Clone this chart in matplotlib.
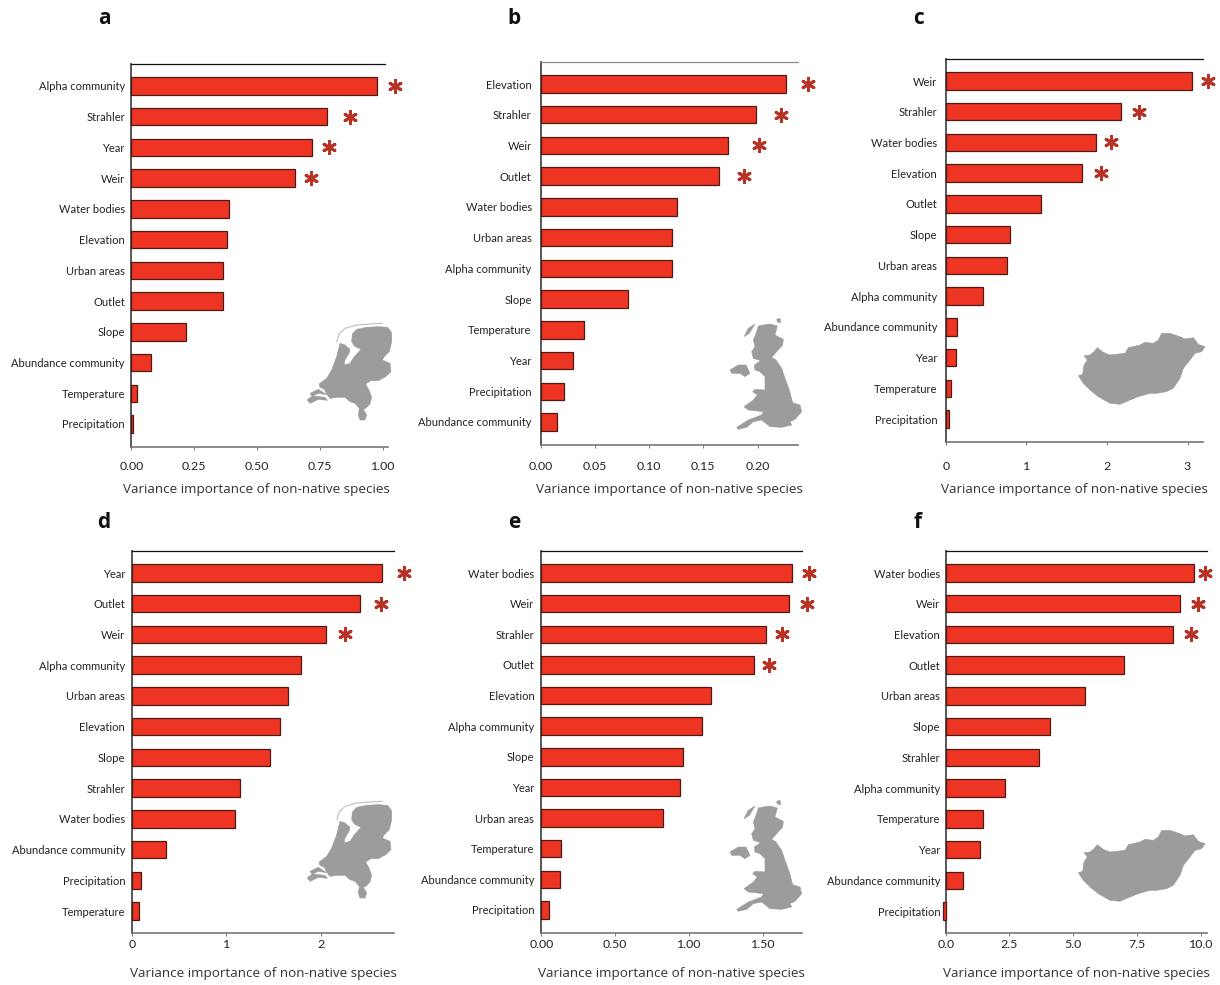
import matplotlib
matplotlib.use("Agg")
import matplotlib.pyplot as plt
from matplotlib.patches import Polygon
from matplotlib.lines import Line2D
from matplotlib.transforms import Affine2D

# ---------- data ----------
labels_a = ["Alpha community", "Strahler", "Year", "Weir", "Water bodies", "Elevation", "Urban areas", "Outlet", "Slope", "Abundance community", "Temperature", "Precipitation"]
values_a = [0.977, 0.779, 0.719, 0.652, 0.389, 0.381, 0.365, 0.365, 0.218, 0.079, 0.024, 0.008]
stars_a = [1.048, 0.869, 0.785, 0.714]
ticks_a = [0, 0.25, 0.5, 0.75, 1.0]
ticklabels_a = ["0.00", "0.25", "0.50", "0.75", "1.00"]

labels_b = ["Elevation", "Strahler", "Weir", "Outlet", "Water bodies", "Urban areas", "Alpha community", "Slope", "Temperature", "Year", "Precipitation", "Abundance community"]
values_b = [0.2265, 0.199, 0.173, 0.164, 0.126, 0.121, 0.121, 0.0805, 0.040, 0.030, 0.0215, 0.015]
stars_b = [0.2468, 0.2218, 0.2015, 0.1877]
ticks_b = [0, 0.05, 0.10, 0.15, 0.20]
ticklabels_b = ["0.00", "0.05", "0.10", "0.15", "0.20"]

labels_c = ["Weir", "Strahler", "Water bodies", "Elevation", "Outlet", "Slope", "Urban areas", "Alpha community", "Abundance community", "Year", "Temperature", "Precipitation"]
values_c = [3.055, 2.175, 1.865, 1.69, 1.18, 0.80, 0.76, 0.463, 0.14, 0.128, 0.066, 0.04]
stars_c = [3.254, 2.40, 2.05, 1.927]
ticks_c = [0, 1, 2, 3]
ticklabels_c = ["0", "1", "2", "3"]

labels_d = ["Year", "Outlet", "Weir", "Alpha community", "Urban areas", "Elevation", "Slope", "Strahler", "Water bodies", "Abundance community", "Precipitation", "Temperature"]
values_d = [2.645, 2.41, 2.05, 1.79, 1.65, 1.565, 1.46, 1.145, 1.09, 0.365, 0.10, 0.08]
stars_d = [2.875, 2.633, 2.252]
ticks_d = [0, 1, 2]
ticklabels_d = ["0", "1", "2"]

labels_e = ["Water bodies", "Weir", "Strahler", "Outlet", "Elevation", "Alpha community", "Slope", "Year", "Urban areas", "Temperature", "Abundance community", "Precipitation"]
values_e = [1.695, 1.675, 1.52, 1.44, 1.145, 1.085, 0.96, 0.935, 0.82, 0.13, 0.125, 0.05]
stars_e = [1.809, 1.795, 1.626, 1.539]
ticks_e = [0, 0.5, 1.0, 1.5]
ticklabels_e = ["0.00", "0.50", "1.00", "1.50"]

labels_f = ["Water bodies", "Weir", "Elevation", "Outlet", "Urban areas", "Slope", "Strahler", "Alpha community", "Temperature", "Year", "Abundance community", "Precipitation"]
values_f = [9.75, 9.2, 8.9, 7.0, 5.46, 4.09, 3.66, 2.33, 1.46, 1.35, 0.68, -0.1]
stars_f = [10.17, 9.89, 9.62]
ticks_f = [0, 2.5, 5.0, 7.5, 10.0]
ticklabels_f = ["0.0", "2.5", "5.0", "7.5", "10.0"]

xlabel_text = "Variance importance of non-native species"

# ---------- map outlines (drawn decorations, in zoomed-crop pixels) ----------
nl_main = [(172,72),(185,58),(215,52),(250,50),(278,52),(290,68),(290,95),(283,125),(268,140),(262,150),(285,160),(288,185),(272,200),(250,212),(228,212),(212,222),(222,240),(230,262),(225,282),(212,295),(205,298),(215,315),(210,330),(195,330),(190,315),(193,295),(180,280),(165,275),(150,262),(130,262),(105,265),(95,252),(88,238),(75,232),(72,222),(95,205),(110,180),(125,140),(135,100),(150,105),(165,118),(162,130),(150,150),(147,165),(165,160),(178,140),(198,118),(178,108),(170,95)]
nl_isl1 = [(36,270),(52,258),(90,262),(97,271),(70,268),(46,280)]
nl_isl2 = [(45,250),(70,238),(95,254),(70,250),(52,259)]
nl_coast = [(126,95),(132,72),(150,55),(185,45),(225,42),(262,40)]
uk_main = [(115,48),(130,45),(150,42),(172,48),(165,75),(190,88),(188,105),(170,125),(155,142),(168,150),(185,175),(195,205),(208,240),(218,278),(240,285),(245,305),(225,328),(210,335),(215,345),(185,352),(150,350),(125,330),(100,335),(80,352),(55,358),(50,352),(85,330),(125,315),(130,305),(85,300),(72,290),(100,270),(112,255),(98,245),(105,238),(135,240),(135,200),(120,185),(105,180),(103,165),(122,152),(100,145),(95,125),(105,110),(100,90),(110,65)]
uk_ni = [(30,180),(55,165),(78,165),(90,190),(75,200),(60,190),(35,190)]
uk_heb = [(72,80),(85,55),(105,42),(88,70)]
uk_ork = [(170,28),(180,25),(182,38),(172,36)]
hu_main = [(25,152),(38,148),(42,120),(52,105),(42,92),(60,90),(72,80),(82,68),(100,82),(120,90),(165,85),(175,68),(210,60),(225,52),(250,55),(265,45),(275,25),(300,25),(330,35),(345,42),(370,38),(385,58),(405,65),(395,80),(375,85),(360,105),(340,130),(330,160),(310,190),(290,200),(260,205),(240,205),(205,215),(180,225),(150,238),(120,235),(85,215),(60,195),(40,175)]

# ---------- layout (pixels) ----------
W, H = 1220, 985
panels = [
    dict(letter="a", lab=labels_a, val=values_a, star=stars_a, tk=ticks_a, tl=ticklabels_a, xmax=1.02,   box=(131.3, 388, 64.5, 446.7), cy=(86, 424),  tly=465.5, xl=(256.5, 490), lp=(104, 18),  gap=6.5, topr=385,  topc="#111111"),
    dict(letter="b", lab=labels_b, val=values_b, star=stars_b, tk=ticks_b, tl=ticklabels_b, xmax=0.2373, box=(540.7, 798, 62, 445),     cy=(84, 422),  tly=465.5, xl=(669, 490),   lp=(514, 19),  gap=9.0, topr=798,  topc="#8a8a8a"),
    dict(letter="c", lab=labels_c, val=values_c, star=stars_c, tk=ticks_c, tl=ticklabels_c, xmax=3.192,  box=(945.7, 1203, 59, 441.7),  cy=(81, 419),  tly=465.5, xl=(1074, 490),  lp=(918, 18),  gap=8.5, topr=1203, topc="#111111"),
    dict(letter="d", lab=labels_d, val=values_d, star=stars_d, tk=ticks_d, tl=ticklabels_d, xmax=2.775,  box=(131.7, 394.3, 551, 933),  cy=(573, 911), tly=943,   xl=(263, 973),   lp=(104, 523), gap=6.5, topr=394,  topc="#111111"),
    dict(letter="e", lab=labels_e, val=values_e, star=stars_e, tk=ticks_e, tl=ticklabels_e, xmax=1.762,  box=(541.3, 802, 551, 933),    cy=(573, 910), tly=943,   xl=(671, 973),   lp=(514, 523), gap=7.0, topr=802,  topc="#111111"),
    dict(letter="f", lab=labels_f, val=values_f, star=stars_f, tk=ticks_f, tl=ticklabels_f, xmax=10.25,  box=(945.7, 1207, 551, 933),   cy=(573, 911), tly=943,   xl=(1076, 973),  lp=(918, 523), gap=5.5, topr=1207, topc="#111111"),
]

LABEL_FONT = ["Lato", "DejaVu Sans"]
AXIS_FONT = ["Open Sans", "DejaVu Sans"]
BAR = "#ee3524"
EDGE = "#4a1a14"
STAR = "#b83226"
GREY = "#9c9c9c"

fig = plt.figure(figsize=(W / 100, H / 100), dpi=100, facecolor="white")
px = Affine2D().scale(1 / W, -1 / H).translate(0, 1) + fig.transFigure

for p in panels:
    l, r, t, b = p["box"]
    ax = fig.add_axes([l / W, 1 - b / H, (r - l) / W, (b - t) / H])
    n = len(p["val"])
    step = (p["cy"][1] - p["cy"][0]) / (n - 1)
    ys = list(range(n))
    ax.set_ylim((b - p["cy"][0]) / step, -(p["cy"][0] - t) / step)
    ax.set_xlim(0, p["xmax"])
    for y, v in zip(ys, p["val"]):
        ax.barh(y, v, height=0.57, color=BAR, edgecolor=EDGE, linewidth=0.9, clip_on=False, zorder=3)
    ax.scatter(p["star"], ys[:len(p["star"])], marker=(6, 2, 0), s=80, linewidths=2.1, color=STAR, clip_on=False, zorder=4)

    ax.set_yticks(ys)
    ax.set_yticklabels(p["lab"], fontfamily=LABEL_FONT, fontsize=8.0, color="#222222")
    ax.tick_params(axis="y", length=0, pad=p["gap"] * 0.72)
    ax.set_xticks(p["tk"])
    ax.set_xticklabels(p["tl"], fontfamily=LABEL_FONT, fontsize=8.9, color="#222222")
    ax.tick_params(axis="x", length=2, width=0.7, color="#777777", pad=(p["tly"] - b) * 0.72 - 5.0)

    ax.spines["right"].set_visible(False)
    ax.spines["left"].set_color("#4a4a4a")
    ax.spines["left"].set_linewidth(1.3)
    ax.spines["bottom"].set_color("#777777")
    ax.spines["bottom"].set_linewidth(1.2)
    ax.spines["top"].set_color(p["topc"])
    ax.spines["top"].set_linewidth(0.9)
    ax.spines["top"].set_bounds(0, p["xmax"] * (p["topr"] - l) / (r - l))

    ax.set_xlabel(xlabel_text, fontfamily=AXIS_FONT, fontsize=9.7, color="#333333")
    ax.xaxis.set_label_coords(p["xl"][0], p["xl"][1], transform=px)
    ax.xaxis.label.set_va("center")

    fig.text(p["lp"][0], p["lp"][1], p["letter"], transform=px, fontfamily=AXIS_FONT,
             fontsize=15, fontweight="bold", ha="center", va="center", color="#111111")


def place(pts, ox, oy):
    return [(ox + x / 3, oy + y / 3) for x, y in pts]


def add_shape(pts, ox, oy):
    fig.add_artist(Polygon(place(pts, ox, oy), closed=True, transform=px, facecolor=GREY, edgecolor=GREY, linewidth=0.4, zorder=5))


for oy in (310, 788):
    for shape in (nl_main, nl_isl1, nl_isl2):
        add_shape(shape, 295, oy)
    xs, ysv = zip(*place(nl_coast, 295, oy))
    fig.add_artist(Line2D(xs, ysv, transform=px, color="#c4c4c4", lw=0.9, zorder=5))
for oy in (310, 792):
    for shape in (uk_main, uk_ni, uk_heb, uk_ork):
        add_shape(shape, 720, oy)
for oy in (325, 822):
    add_shape(hu_main, 1070, oy)

fig.savefig("out.png", dpi=100, facecolor="white")
